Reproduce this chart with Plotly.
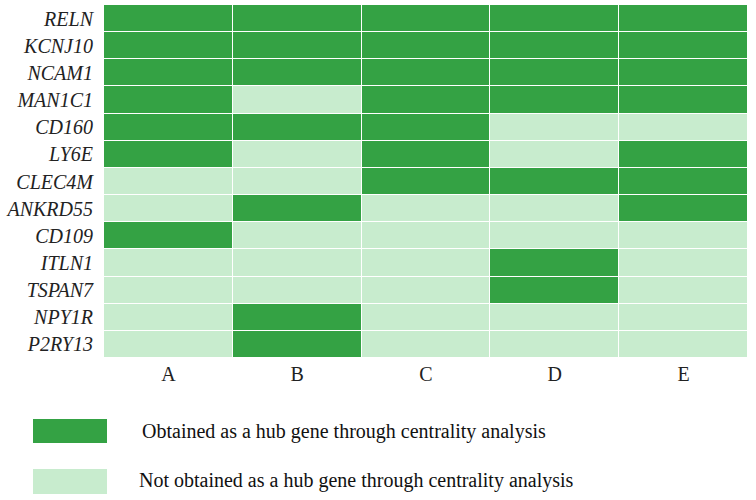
import plotly.graph_objects as go

genes = ["RELN", "KCNJ10", "NCAM1", "MAN1C1", "CD160", "LY6E", "CLEC4M",
         "ANKRD55", "CD109", "ITLN1", "TSPAN7", "NPY1R", "P2RY13"]
methods = ["A", "B", "C", "D", "E"]
hub = [
    [1, 1, 1, 1, 1],
    [1, 1, 1, 1, 1],
    [1, 1, 1, 1, 1],
    [1, 0, 1, 1, 1],
    [1, 1, 1, 0, 0],
    [1, 0, 1, 0, 1],
    [0, 0, 1, 1, 1],
    [0, 1, 0, 0, 1],
    [1, 0, 0, 0, 0],
    [0, 0, 0, 1, 0],
    [0, 0, 0, 1, 0],
    [0, 1, 0, 0, 0],
    [0, 1, 0, 0, 0],
]
legend_labels = ["Obtained as a hub gene through centrality analysis",
                 "Not obtained as a hub gene through centrality analysis"]

DARK = "#34a244"
LIGHT = "#c8ecce"
FONT = "Liberation Serif"

fig = go.Figure(go.Heatmap(
    z=hub, x=methods, y=genes,
    colorscale=[[0, LIGHT], [0.5, LIGHT], [0.5, DARK], [1, DARK]],
    zmin=0, zmax=1, showscale=False, xgap=1, ygap=1, hoverinfo="skip",
))

W, H = 756, 500
L, T, R, B = 104, 5, 8, 142
pw, ph = W - L - R, H - T - B

def px(x):
    return (x - L) / pw

def py(y):
    return (H - B - y) / ph

shapes = []
annotations = []
for i, (lab, col) in enumerate(zip(legend_labels, [DARK, LIGHT])):
    y0 = [419, 469][i]
    y1 = [443, 494][i]
    shapes.append(dict(type="rect", xref="paper", yref="paper",
                       x0=px(33), x1=px(107), y0=py(y1), y1=py(y0),
                       fillcolor=col, line=dict(width=0)))
    annotations.append(dict(xref="paper", yref="paper", x=px([140, 137][i]),
                            y=py([431, 480][i]), text=lab, showarrow=False,
                            xanchor="left", yanchor="middle",
                            font=dict(family=FONT, size=20, color="#111")))

fig.update_layout(
    width=W, height=H, margin=dict(l=L, r=R, t=T, b=B, autoexpand=False),
    plot_bgcolor="white", paper_bgcolor="white",
    shapes=shapes, annotations=annotations,
    xaxis=dict(showgrid=False, zeroline=False, ticks="", side="bottom",
               automargin=False,
               tickfont=dict(family=FONT, size=20, color="#222"),
               ticklabelstandoff=2),
    yaxis=dict(autorange="reversed", showgrid=False, zeroline=False, ticks="",
               automargin=False,
               tickfont=dict(family=FONT, size=20, color="#222", style="italic"),
               ticklabelstandoff=10),
)

fig.write_html("out.html", config={"displayModeBar": False},
               post_script="document.body.style.margin='0px';")
